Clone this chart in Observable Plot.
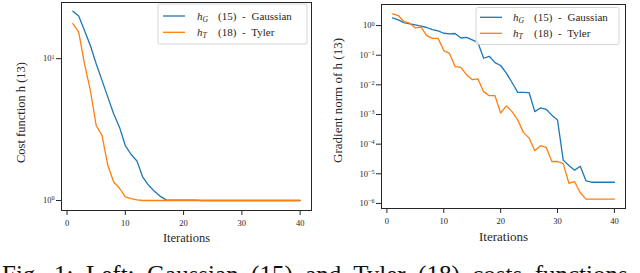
<!DOCTYPE html>
<html><head><meta charset="utf-8">
<script src="https://cdn.jsdelivr.net/npm/d3@7"></script>
<script src="https://cdn.jsdelivr.net/npm/@observablehq/plot@0.6"></script>
<style>
html,body{margin:0;padding:0;background:#fff;}
#fig{position:relative;width:640px;height:273px;overflow:hidden;background:#fff;font-family:"Liberation Serif","DejaVu Serif",serif;}
#left,#right{position:absolute;top:0;}
#left{left:0;} #right{left:320px;}
</style></head><body>
<div id="fig"><div id="left"></div><div id="right"></div></div>
<script>
// ---- data ----
const iterations = [1,2,3,4,5,6,7,8,9,10,11,12,13,14,15,16,17,18,19,20,21,22,23,24,25,26,27,28,29,30,31,32,33,34,35,36,37,38,39,40];
const costGaussian = [21.6,20.0,15.8,12.4,9.2,7.03,5.36,4.09,3.29,2.44,2.11,1.90,1.46,1.28,1.16,1.07,1.01,1.005,1.005,1.005,1.005,1.005,1.0,1.0,1.0,1.0,1.0,1.0,1.0,1.0,1.0,1.0,1.0,1.0,1.0,1.0,1.0,1.0,1.0,1.0];
const costTyler = [17.7,15.4,9.2,5.98,3.38,2.88,1.77,1.35,1.22,1.06,1.03,1.01,1.0,1.0,1.0,1.0,1.0,1.0,1.0,1.0,1.0,1.0,1.0,1.0,1.0,1.0,1.0,1.0,1.0,1.0,1.0,1.0,1.0,1.0,1.0,1.0,1.0,1.0,1.0,1.0];
const gradGaussian = [1.82,1.55,1.26,1.14,1.05,0.95,0.86,0.73,0.66,0.55,0.52,0.54,0.38,0.40,0.33,0.27,0.079,0.092,0.056,0.045,0.025,0.012,0.0056,0.0056,0.0055,0.00125,0.00166,0.0015,0.00095,0.00065,2.9e-5,1.9e-5,1.33e-5,1.8e-5,5.8e-6,5.2e-6,5.2e-6,5.2e-6,5.2e-6,5.2e-6];
const gradTyler = [2.48,2.18,1.36,1.2,0.83,0.88,0.46,0.37,0.37,0.143,0.116,0.041,0.039,0.022,0.015,0.016,0.0059,0.0043,0.0043,0.00112,0.00195,0.00125,0.00066,0.00025,0.00016,6e-5,8.9e-5,7.8e-5,2.6e-5,2.6e-5,2.2e-5,4.8e-6,5.4e-6,2.3e-6,1.4e-6,1.4e-6,1.4e-6,1.4e-6,1.4e-6,1.4e-6];
const xTicks = [0,10,20,30,40];
const costTicks = [1,10];
const gradTicks = [1e-6,1e-5,1e-4,1e-3,1e-2,1e-1,1];
const legendSubs = ["G","T"];
const legendNames = ["(15) - Gaussian","(18) - Tyler"];
const xLabel = "Iterations";
const costLabel = "Cost function h (13)";
const gradLabel = "Gradient norm of h (13)";
const captionText = "Fig. 1: Left: Gaussian (15) and Tyler (18) costs functions";

const BLUE = "#1f77b4", ORANGE = "#ff7f0e", INK = "#262626";
const FONT = "Liberation Serif, DejaVu Serif, serif";

function panel(o) {
  const rows = iterations.map((it, i) => ({it, g: o.gaussian[i], t: o.tyler[i]}));
  const svg = Plot.plot({
    width: 320, height: 250,
    marginLeft: o.frame.left, marginRight: 320 - o.frame.right,
    marginTop: o.frame.top, marginBottom: 250 - o.frame.bottom,
    style: {fontFamily: FONT, fontSize: "8.5px", color: INK, background: "transparent", overflow: "visible"},
    x: {domain: [-0.95, 41.95]},
    y: {type: "log", domain: o.yDomain},
    marks: [
      Plot.lineY(rows, {x: "it", y: "g", stroke: BLUE, strokeWidth: 1.3}),
      Plot.lineY(rows, {x: "it", y: "t", stroke: ORANGE, strokeWidth: 1.3}),
      Plot.frame({stroke: INK, strokeWidth: 1}),
      Plot.axisX({ticks: xTicks, tickSize: 5, tickPadding: 4, label: null, tickFormat: d => String(d)}),
      Plot.axisY({ticks: o.yTicks, tickSize: 5, tickPadding: 2, label: null, tickFormat: d => "10^" + Math.round(Math.log10(d))}),
      Plot.text([xLabel], {frameAnchor: "bottom", textAnchor: "middle", lineAnchor: "top", dy: o.xlabDy, fontSize: o.labelFont, fill: INK}),
      Plot.text([o.ylabel], {frameAnchor: "left", textAnchor: "middle", rotate: -90, lineAnchor: "top", dx: o.ylabDx, dy: o.ylabDy, fontSize: o.labelFont, fill: INK, ariaLabel: "ylabel"})
    ]
  });
  const s = d3.select(svg);
  // superscript exponents on log tick labels
  s.selectAll('g[aria-label="y-axis tick label"] text').each(function() {
    const [base, exp] = this.textContent.split("^");
    const t = d3.select(this);
    t.text(base);
    t.append("tspan").attr("dy", "-0.45em").attr("font-size", "0.72em").text(exp.replace("-", "\u2212"));
  });
  // italic h in y label
  s.selectAll('g[aria-label="ylabel"] text').each(function() {
    const parts = this.textContent.split(" h ");
    const t = d3.select(this);
    t.text(null);
    t.append("tspan").text(parts[0] + " ");
    t.append("tspan").attr("font-style", "italic").text("h");
    t.append("tspan").text(" " + parts[1]);
  });
  // legend
  const L = o.legend;
  const g = s.append("g").attr("text-anchor", "start");
  g.append("rect").attr("x", L.x).attr("y", L.y).attr("width", L.w).attr("height", L.h).attr("rx", 2)
    .attr("fill", "white").attr("fill-opacity", 0.8).attr("stroke", "#cccccc").attr("stroke-width", 0.8);
  [BLUE, ORANGE].forEach((c, i) => {
    const cy = L.row0 + i * L.rowGap;
    g.append("line").attr("x1", L.lx).attr("x2", L.lx + 22).attr("y1", cy).attr("y2", cy).attr("stroke", c).attr("stroke-width", 1.3);
    const t = g.append("text").attr("y", cy + 3.6).attr("font-size", L.fs).attr("fill", INK).attr("font-family", FONT)
      .attr("text-anchor", "start").attr("word-spacing", L.ws);
    t.append("tspan").attr("x", L.tx).attr("font-style", "italic").text("h");
    t.append("tspan").attr("font-style", "italic").attr("font-size", L.fs * 0.7).attr("dy", 2.2).text(legendSubs[i]);
    t.append("tspan").attr("x", L.tx + L.gap).attr("dy", -2.2).text(legendNames[i]);
  });
  return svg;
}

document.getElementById("left").appendChild(panel({
  gaussian: costGaussian, tyler: costTyler,
  frame: {left: 61, right: 311, top: 2, bottom: 210},
  yDomain: [0.850, 24.9], yTicks: costTicks,
  ylabel: costLabel, labelFont: 12.5, xlabDy: 23, ylabDx: -45, ylabDy: 6,
  legend: {x: 158, y: 4, w: 149, h: 40, lx: 163, row0: 16, rowGap: 16.3, tx: 197, gap: 21, fs: 11, ws: 3}
}));
document.getElementById("right").appendChild(panel({
  gaussian: gradGaussian, tyler: gradTyler,
  frame: {left: 61, right: 305, top: 4, bottom: 208},
  yDomain: [6.76e-7, 5.13], yTicks: gradTicks,
  ylabel: gradLabel, labelFont: 13, xlabDy: 23, ylabDx: -49, ylabDy: -6,
  legend: {x: 156, y: 7.5, w: 143, h: 37, lx: 160, row0: 17.3, rowGap: 16, tx: 193, gap: 21, fs: 11, ws: 3}
}));

// caption
const cap = d3.select("#fig").append("svg").attr("width", 640).attr("height", 273)
  .style("position", "absolute").style("left", "0px").style("top", "0px");
cap.append("text").attr("x", 2).attr("y", 282.5).attr("font-size", 25).attr("word-spacing", 6.2)
  .attr("fill", "#111").attr("font-family", FONT).text(captionText);
</script>
</body></html>
